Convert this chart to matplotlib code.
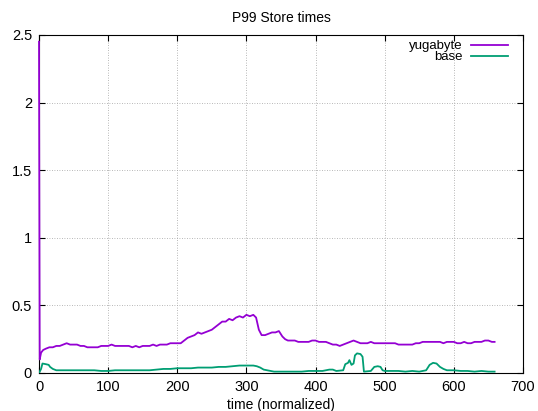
import matplotlib.pyplot as plt

plt.rcParams['font.family'] = ['Liberation Sans', 'DejaVu Sans']

# yugabyte P99 store times
yb_x = [0, 1, 3, 6, 10, 15, 20, 25, 30, 35, 40, 45, 50, 55, 60, 65, 70, 75, 80, 85,
        90, 95, 100, 105, 110, 115, 120, 125, 130, 135, 140, 145, 150, 155, 160, 165,
        170, 175, 180, 185, 190, 195, 200, 205, 210, 215, 220, 225, 230, 235, 240, 245,
        250, 255, 260, 265, 270, 275, 280, 285, 290, 295, 300, 305, 310, 314, 318, 322,
        327, 332, 337, 342, 347, 352, 356, 360, 365, 370, 375, 380, 385, 390, 395, 400,
        405, 410, 415, 420, 425, 430, 435, 440, 445, 450, 455, 460, 465, 470, 475, 480,
        485, 490, 495, 500, 505, 510, 515, 520, 525, 530, 535, 540, 545, 550, 555, 560,
        565, 570, 575, 580, 585, 590, 595, 600, 605, 610, 615, 620, 625, 630, 635, 640,
        645, 650, 655, 659]
yb_y = [2.45, 0.10, 0.15, 0.17, 0.18, 0.19, 0.19, 0.20, 0.20, 0.21, 0.22, 0.21, 0.21, 0.21,
        0.20, 0.20, 0.19, 0.19, 0.19, 0.19, 0.20, 0.20, 0.20, 0.21, 0.20, 0.20, 0.20, 0.20,
        0.20, 0.19, 0.20, 0.19, 0.20, 0.20, 0.20, 0.21, 0.20, 0.21, 0.21, 0.21, 0.22, 0.22,
        0.22, 0.22, 0.24, 0.26, 0.27, 0.28, 0.30, 0.29, 0.30, 0.31, 0.32, 0.34, 0.36, 0.38,
        0.38, 0.40, 0.39, 0.41, 0.42, 0.41, 0.43, 0.42, 0.43, 0.41, 0.32, 0.28, 0.28, 0.29,
        0.30, 0.30, 0.31, 0.27, 0.25, 0.24, 0.24, 0.24, 0.23, 0.23, 0.23, 0.23, 0.24, 0.24,
        0.23, 0.23, 0.23, 0.22, 0.21, 0.21, 0.20, 0.21, 0.22, 0.23, 0.24, 0.23, 0.22, 0.22,
        0.22, 0.23, 0.22, 0.22, 0.22, 0.22, 0.22, 0.22, 0.22, 0.21, 0.21, 0.21, 0.21, 0.21,
        0.22, 0.22, 0.23, 0.23, 0.23, 0.23, 0.23, 0.23, 0.22, 0.23, 0.23, 0.23, 0.22, 0.22,
        0.23, 0.22, 0.22, 0.23, 0.23, 0.23, 0.24, 0.24, 0.23, 0.23]

# base P99 store times
base_x = [0, 3, 5, 10, 14, 16, 20, 25, 30, 40, 50, 60, 70, 80, 90, 100, 110, 120, 130, 140,
          150, 160, 170, 180, 190, 200, 210, 220, 230, 240, 250, 260, 270, 280, 290, 300,
          310, 315, 320, 325, 330, 340, 350, 360, 370, 380, 390, 400, 410, 420, 425, 430,
          440, 443, 447, 449, 452, 455, 457, 460, 465, 468, 470, 480, 485, 490, 494, 497,
          500, 510, 520, 530, 540, 550, 560, 565, 570, 575, 580, 585, 590, 600, 610, 620,
          630, 640, 650, 659]
base_y = [0.00, 0.03, 0.07, 0.065, 0.06, 0.045, 0.03, 0.02, 0.02, 0.02, 0.02, 0.02, 0.02,
          0.02, 0.015, 0.015, 0.02, 0.02, 0.02, 0.02, 0.02, 0.02, 0.025, 0.03, 0.03, 0.035,
          0.035, 0.035, 0.04, 0.04, 0.04, 0.045, 0.045, 0.05, 0.055, 0.055, 0.055, 0.05,
          0.04, 0.025, 0.02, 0.01, 0.01, 0.01, 0.01, 0.01, 0.015, 0.015, 0.015, 0.025, 0.025,
          0.015, 0.02, 0.065, 0.075, 0.095, 0.06, 0.07, 0.13, 0.145, 0.14, 0.12, 0.01, 0.015,
          0.045, 0.05, 0.045, 0.02, 0.015, 0.015, 0.015, 0.01, 0.015, 0.01, 0.02, 0.06, 0.075,
          0.07, 0.045, 0.03, 0.02, 0.02, 0.015, 0.015, 0.01, 0.015, 0.01, 0.01]

fig = plt.figure(figsize=(5.38, 4.11), dpi=100)
ax = fig.add_axes([0.0725, 0.0925, 0.8995, 0.8225])

ax.plot(yb_x, yb_y, color='#9400d3', lw=1.3, label='yugabyte', zorder=3, clip_on=False)
ax.plot(base_x, base_y, color='#009e73', lw=1.3, label='base', zorder=3)

ax.set_xlim(0, 700)
ax.set_ylim(0, 2.5)
ax.set_xticks(range(0, 701, 100))
ax.set_yticks([0, 0.5, 1, 1.5, 2, 2.5])
ax.set_yticklabels(['0', '0.5', '1', '1.5', '2', '2.5'])
ax.tick_params(direction='in', top=True, right=True, length=4, width=0.8,
               labelsize=10.5, pad=5)
ax.grid(True, color='#a0a0a0', linestyle=(0, (1, 2)), linewidth=0.6)
for s in ax.spines.values():
    s.set_linewidth(0.8)

ax.set_title('P99 Store times', fontsize=10, pad=9)
ax.set_xlabel('time (normalized)', fontsize=10, labelpad=3)
ax.legend(loc='upper right', bbox_to_anchor=(0.993, 1.02), frameon=False,
          markerfirst=False, fontsize=9.5, handlelength=2.8, labelspacing=-0.1,
          handletextpad=0.6)

fig.savefig('out.png')
